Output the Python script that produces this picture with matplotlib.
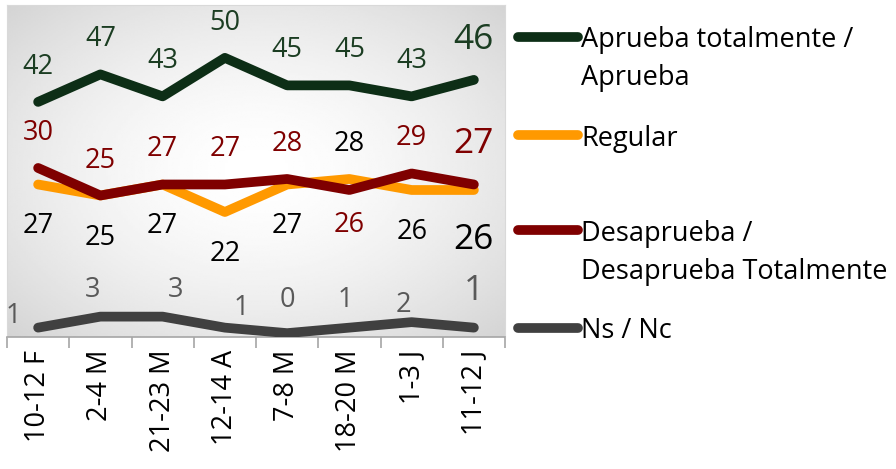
import numpy as np
import matplotlib
matplotlib.use("Agg")
import matplotlib.pyplot as plt
from matplotlib.lines import Line2D

plt.rcParams['font.family'] = ['Open Sans', 'DejaVu Sans']

fechas = ["10-12 F", "2-4 M", "21-23 M", "12-14 A", "7-8 M", "18-20 M", "1-3 J", "11-12 J"]
aprueba = [42, 47, 43, 50, 45, 45, 43, 46]
regular = [27, 25, 27, 22, 27, 28, 26, 26]
desaprueba = [30, 25, 27, 27, 28, 26, 29, 27]
nsnc = [1, 3, 3, 1, 0, 1, 2, 1]

c_apr = "#0d2e16"
c_reg = "#ff9900"
c_des = "#7f0000"
c_ns = "#404040"

W, H = 896, 469
fig = plt.figure(figsize=(W / 100, H / 100), dpi=100)
ax = fig.add_axes([7 / W, 1 - 337 / H, (505 - 7) / W, (337 - 5) / H])

# fondo con degradado gris hacia el centro
gx, gy = np.meshgrid(np.linspace(-1, 1, 200), np.linspace(-1, 1, 200))
r = np.sqrt(gx ** 2 + gy ** 2) / np.sqrt(2)
bg = 1 - 0.17 * r ** 1.6
ax.imshow(bg, cmap="gray", vmin=0, vmax=1, extent=(0, 1, 0, 1),
          transform=ax.transAxes, aspect="auto", zorder=0)

x = np.arange(len(fechas))
lw = 7
for serie, col in [(aprueba, c_apr), (regular, c_reg), (desaprueba, c_des), (nsnc, c_ns)]:
    ax.plot(x, serie, color=col, lw=lw, solid_capstyle="round", solid_joinstyle="round", zorder=3)

fs = 19.5
fs_big = 25.5

def etiqueta(i, val, color, dy, dx=0):
    last = i == len(fechas) - 1
    ax.annotate(str(val), (x[i], val), xytext=(dx, dy), textcoords="offset pixels",
                ha="center", va="center", color=color,
                fontsize=fs_big if last else fs, zorder=4)

for i in x:
    last = i == len(fechas) - 1
    up = 40 if last else 35
    down = -50 if last else -42
    etiqueta(i, aprueba[i], "#1b3d22", up)
    if desaprueba[i] >= regular[i]:
        etiqueta(i, desaprueba[i], c_des, up)
        etiqueta(i, regular[i], "black", down)
    else:
        etiqueta(i, regular[i], "black", up)
        etiqueta(i, desaprueba[i], c_des, -35)

# etiquetas de Ns / Nc (posición aproximada como en el original)
ns_off = [(-25, 12), (-8, 27), (13, 27), (16, 20), (0, 33), (-4, 28), (-8, 17), (0, 37)]
for i, (dx, dy) in enumerate(ns_off):
    etiqueta(i, nsnc[i], "#595959", dy, dx)

ax.set_xlim(-0.5, len(fechas) - 0.5)
ax.set_ylim(-0.7, 59.6)
ax.set_yticks([])
ax.set_xticks(np.arange(-0.5, len(fechas)), labels=[])
ax.set_xticks(x, labels=fechas, minor=True, rotation=90, fontsize=fs)
ax.tick_params(axis="x", which="major", length=8, width=1.2, color="#a6a6a6")
ax.tick_params(axis="x", which="minor", length=0, pad=9)
for s in ["left", "right", "top"]:
    ax.spines[s].set_color("#d9d9d9")
ax.spines["bottom"].set_color("#a6a6a6")
ax.spines["bottom"].set_linewidth(1.2)

# leyenda manual
ley = [
    (["Aprueba totalmente /", "Aprueba"], c_apr, 37),
    (["Regular"], c_reg, 135),
    (["Desaprueba /", "Desaprueba Totalmente"], c_des, 230),
    (["Ns / Nc"], c_ns, 328),
]
for lineas, col, yp in ley:
    yf = 1 - yp / H
    fig.add_artist(Line2D([518 / W, 578 / W], [yf, yf], color=col, lw=lw,
                          solid_capstyle="round", transform=fig.transFigure))
    for k, t in enumerate(lineas):
        fig.text(581 / W, 1 - (yp + 38 * k) / H, t, fontsize=fs,
                 va="center_baseline", ha="left")

fig.savefig("out.png", dpi=100)
